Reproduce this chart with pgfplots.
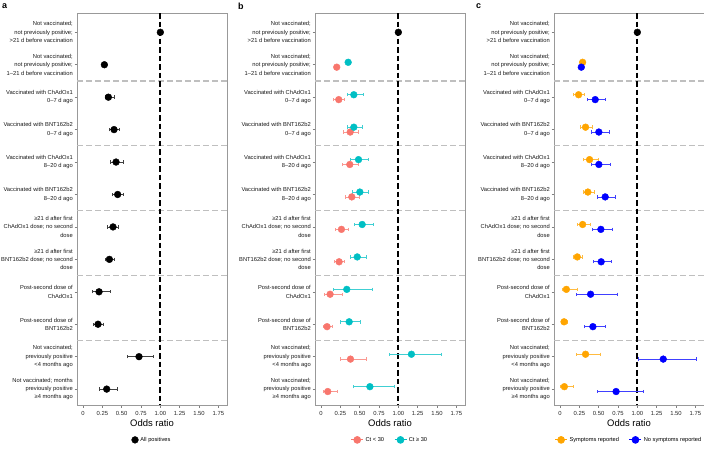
\documentclass[border=0pt]{standalone}
\usepackage{pgfplots}
\pgfplotsset{compat=1.18}
\usepackage{pgfplotstable}
\usepackage{fontspec}
\setmainfont{Liberation Sans}
\definecolor{salmon}{HTML}{F8766D}
\definecolor{tealc}{HTML}{00BFC4}
\definecolor{orangec}{HTML}{FFA500}
\definecolor{bluec}{HTML}{0000FF}

% r m lo hi
\pgfplotstableread{
r m lo hi
1 1.000 1.000 1.000
2 0.276 0.262 0.290
3 0.328 0.289 0.409
4 0.401 0.345 0.474
5 0.427 0.358 0.522
6 0.448 0.384 0.526
7 0.388 0.315 0.461
8 0.341 0.289 0.405
9 0.207 0.116 0.353
10 0.194 0.138 0.267
11 0.724 0.569 0.909
12 0.306 0.207 0.444
}\dataA
\pgfplotstableread{
r m lo hi
1 1.000 1.000 1.000
}\refrow
\pgfplotstableread{
r m lo hi
2 0.203 0.190 0.216
3 0.229 0.165 0.303
4 0.377 0.294 0.481
5 0.372 0.281 0.481
6 0.398 0.316 0.494
7 0.264 0.186 0.351
8 0.234 0.177 0.303
9 0.117 0.043 0.273
10 0.078 0.030 0.152
11 0.381 0.251 0.589
12 0.087 0.030 0.216
}\dataBred
\pgfplotstableread{
r m lo hi
2 0.351 0.330 0.375
3 0.424 0.338 0.545
4 0.424 0.338 0.537
5 0.485 0.381 0.610
6 0.502 0.407 0.610
7 0.532 0.424 0.675
8 0.468 0.381 0.580
9 0.333 0.160 0.658
10 0.364 0.255 0.506
11 1.169 0.879 1.550
12 0.632 0.416 0.952
}\dataBteal
\pgfplotstableread{
r m lo hi
2 0.292 0.280 0.305
3 0.240 0.176 0.318
4 0.330 0.262 0.412
5 0.382 0.300 0.494
6 0.360 0.296 0.446
7 0.292 0.219 0.391
8 0.223 0.176 0.283
9 0.082 0.034 0.223
10 0.052 0.021 0.090
11 0.330 0.210 0.515
12 0.056 0.009 0.167
}\dataCorange
\pgfplotstableread{
r m lo hi
2 0.275 0.262 0.290
3 0.455 0.352 0.584
4 0.502 0.399 0.635
5 0.502 0.399 0.644
6 0.584 0.476 0.712
7 0.528 0.412 0.670
8 0.532 0.433 0.657
9 0.395 0.210 0.738
10 0.425 0.309 0.584
11 1.335 1.013 1.760
12 0.725 0.485 1.073
}\dataCblue

\pgfplotsset{
  panel/.style={
    scale only axis, width=150bp, height=392bp,
    xmin=-0.078, xmax=1.862, ymin=0.405, ymax=12.49, y dir=reverse,
    xtick={0,0.25,0.5,0.75,1,1.25,1.5,1.75},
    xticklabels={0,0.25,0.50,0.75,1.00,1.25,1.50,1.75},
    ytick={1,2,3,4,5,6,7,8,9,10,11,12},
    xtick pos=left, ytick pos=left,
    tick align=outside, major tick length=2.5bp,
    axis line style={black!40, line width=0.7pt},
    every tick/.style={black!50, line width=0.5pt},
    xticklabel style={font=\fontsize{5.9}{6}\selectfont, text=black!85},
    yticklabel style={font=\fontsize{5.8}{8.4}\selectfont, align=right, text=black!90, inner sep=1.5pt},
    xlabel={Odds ratio}, xlabel style={font=\fontsize{9.5}{10}\selectfont, yshift=2bp},
    /pgf/number format/assume math mode=true,
    legend style={draw=none, fill=none, at={(0.5,-0.089)}, anchor=center,
      font=\fontsize{5.7}{6}\selectfont, legend columns=-1,
      /tikz/every even column/.append style={column sep=8bp}},
    legend image code/.code={\draw[mark repeat=2,mark phase=2,##1] plot coordinates {(0bp,0bp) (6bp,0bp) (12bp,0bp)};},
  },
  sep/.style={forget plot, black!25, line width=1.2pt, dash pattern=on 5.5bp off 3.5bp},
  vref/.style={forget plot, black, line width=2pt, dash pattern=on 5.5bp off 3bp},
  pt/.style={only marks, mark=*, mark size=3.4bp, color=#1, forget plot,
    error bars/x dir=both, error bars/x explicit,
    error bars/error mark=|,
    error bars/error bar style={line width=0.75pt, color=#1!75},
    error bars/error mark options={mark size=1.7bp, line width=0.6pt, color=#1!75}},
}
\newcommand{\sepline}[1]{\addplot[sep] coordinates {(-0.078,#1) (1.862,#1)};}
\newcommand{\allseps}{\sepline{2.5}\sepline{4.5}\sepline{6.5}\sepline{8.5}\sepline{10.5}}
\newcommand{\refvline}{\addplot[vref] coordinates {(1,0.405) (1,12.49)};}

\begin{document}
\begin{tikzpicture}
\useasboundingbox (0,0) rectangle (704bp,449bp);

% ---------------- panel a
\begin{axis}[panel, at={(77bp,44bp)}, anchor=south west,
  yticklabels={
    {Not vaccinated;\\not previously positive;\\>21 d before vaccination},
    {Not vaccinated;\\not previously positive;\\1–21 d before vaccination},
    {Vaccinated with ChAdOx1\\0–7 d ago},
    {Vaccinated with BNT162b2\\0–7 d ago},
    {Vaccinated with ChAdOx1\\8–20 d ago},
    {Vaccinated with BNT162b2\\8–20 d ago},
    {≥21 d after first\\ChAdOx1 dose; no second\\dose},
    {≥21 d after first\\BNT162b2 dose; no second\\dose},
    {Post-second dose of\\ChAdOx1},
    {Post-second dose of\\BNT162b2},
    {Not vaccinated;\\previously positive\\<4 months ago},
    {Not vaccinated; months\\previously positive\\≥4 months ago}}]
\allseps
\refvline
\addplot[pt=black] table[x=m, y=r, x error plus expr=\thisrow{hi}-\thisrow{m}, x error minus expr=\thisrow{m}-\thisrow{lo}] {\dataA};
\addlegendimage{only marks, mark=*, mark size=3.4bp, black}
\addlegendentry{All positives}
\end{axis}

% ---------------- panel b
\begin{axis}[panel, at={(315bp,44bp)}, anchor=south west,
  yticklabels={
    {Not vaccinated;\\not previously positive;\\>21 d before vaccination},
    {Not vaccinated;\\not previously positive;\\1–21 d before vaccination},
    {Vaccinated with ChAdOx1\\0–7 d ago},
    {Vaccinated with BNT162b2\\0–7 d ago},
    {Vaccinated with ChAdOx1\\8–20 d ago},
    {Vaccinated with BNT162b2\\8–20 d ago},
    {≥21 d after first\\ChAdOx1 dose; no second\\dose},
    {≥21 d after first\\BNT162b2 dose; no second\\dose},
    {Post-second dose of\\ChAdOx1},
    {Post-second dose of\\BNT162b2},
    {Not vaccinated;\\previously positive\\<4 months ago},
    {Not vaccinated;\\previously positive\\≥4 months ago}}]
\allseps
\refvline
\addplot[pt=black] table[x=m, y=r, x error plus expr=\thisrow{hi}-\thisrow{m}, x error minus expr=\thisrow{m}-\thisrow{lo}] {\refrow};
\addplot[pt=salmon] table[x=m, y expr=\thisrow{r}+0.075, x error plus expr=\thisrow{hi}-\thisrow{m}, x error minus expr=\thisrow{m}-\thisrow{lo}] {\dataBred};
\addplot[pt=tealc] table[x=m, y expr=\thisrow{r}-0.075, x error plus expr=\thisrow{hi}-\thisrow{m}, x error minus expr=\thisrow{m}-\thisrow{lo}] {\dataBteal};
\addlegendimage{salmon, line width=0.8pt, mark=*, mark size=3.4bp}
\addlegendentry{Ct < 30}
\addlegendimage{tealc, line width=0.8pt, mark=*, mark size=3.4bp}
\addlegendentry{Ct ≥ 30}
\end{axis}

% ---------------- panel c
\begin{axis}[panel, at={(554bp,44bp)}, anchor=south west,
  yticklabels={
    {Not vaccinated;\\not previously positive;\\>21 d before vaccination},
    {Not vaccinated;\\not previously positive;\\1–21 d before vaccination},
    {Vaccinated with ChAdOx1\\0–7 d ago},
    {Vaccinated with BNT162b2\\0–7 d ago},
    {Vaccinated with ChAdOx1\\8–20 d ago},
    {Vaccinated with BNT162b2\\8–20 d ago},
    {≥21 d after first\\ChAdOx1 dose; no second\\dose},
    {≥21 d after first\\BNT162b2 dose; no second\\dose},
    {Post-second dose of\\ChAdOx1},
    {Post-second dose of\\BNT162b2},
    {Not vaccinated;\\previously positive\\<4 months ago},
    {Not vaccinated;\\previously positive\\≥4 months ago}}]
\allseps
\refvline
\addplot[pt=black] table[x=m, y=r, x error plus expr=\thisrow{hi}-\thisrow{m}, x error minus expr=\thisrow{m}-\thisrow{lo}] {\refrow};
\addplot[pt=orangec] table[x=m, y expr=\thisrow{r}-0.075, x error plus expr=\thisrow{hi}-\thisrow{m}, x error minus expr=\thisrow{m}-\thisrow{lo}] {\dataCorange};
\addplot[pt=bluec] table[x=m, y expr=\thisrow{r}+0.075, x error plus expr=\thisrow{hi}-\thisrow{m}, x error minus expr=\thisrow{m}-\thisrow{lo}] {\dataCblue};
\addlegendimage{orangec, line width=0.8pt, mark=*, mark size=3.4bp}
\addlegendentry{Symptoms reported}
\addlegendimage{bluec, line width=0.8pt, mark=*, mark size=3.4bp}
\addlegendentry{No symptoms reported}
\end{axis}

\node[font=\bfseries\fontsize{9}{9}\selectfont, anchor=north west, inner sep=0pt] at (2bp,446bp) {a};
\node[font=\bfseries\fontsize{9}{9}\selectfont, anchor=north west, inner sep=0pt] at (238bp,446bp) {b};
\node[font=\bfseries\fontsize{9}{9}\selectfont, anchor=north west, inner sep=0pt] at (476bp,446bp) {c};
\end{tikzpicture}
\end{document}
